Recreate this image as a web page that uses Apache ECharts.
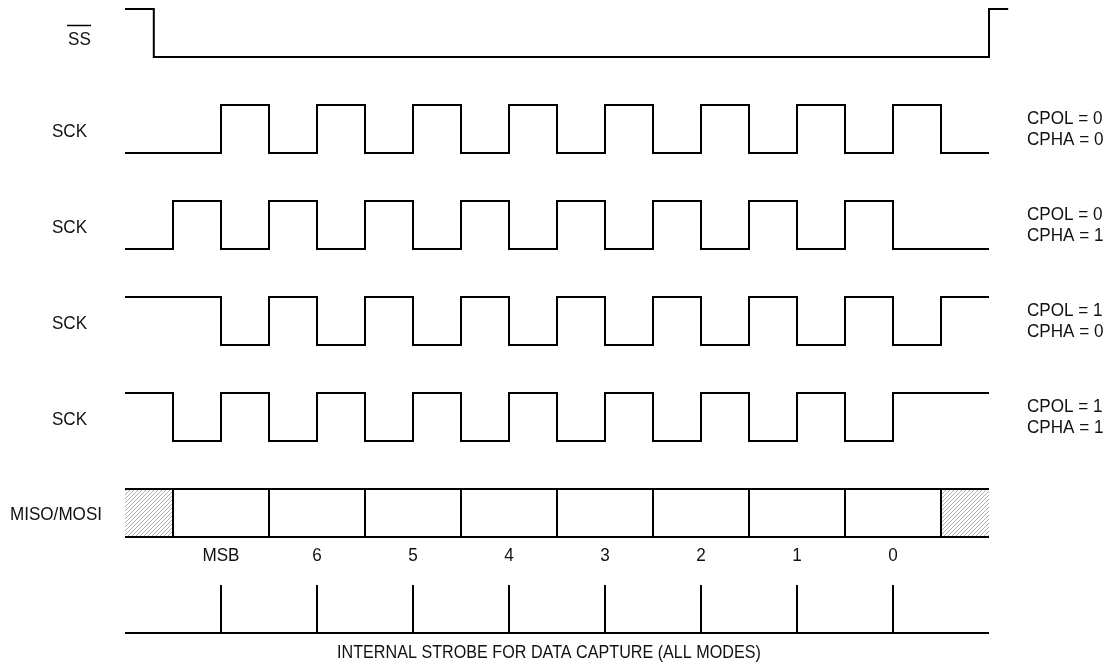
<!DOCTYPE html>
<html>
<head>
<meta charset="utf-8">
<title>SPI timing</title>
<script src="https://cdn.jsdelivr.net/npm/echarts@6/dist/echarts.min.js"></script>
<style>
  html, body { margin: 0; padding: 0; background: #fff; }
  #chart { width: 1112px; height: 666px; }
</style>
</head>
<body>
<div id="chart"></div>
<script>
// time is counted in half clock periods, 0..18
const ssEdges = [0, 0.6, 18, 18.4];
const ssLevels = [1, 0, 1];

// level of each half period, 1 = high
const sckCpol0Cpha0 = [0, 0, 1, 0, 1, 0, 1, 0, 1, 0, 1, 0, 1, 0, 1, 0, 1, 0];
const sckCpol0Cpha1 = [0, 1, 0, 1, 0, 1, 0, 1, 0, 1, 0, 1, 0, 1, 0, 1, 0, 0];
const sckCpol1Cpha0 = [1, 1, 0, 1, 0, 1, 0, 1, 0, 1, 0, 1, 0, 1, 0, 1, 0, 1];
const sckCpol1Cpha1 = [1, 0, 1, 0, 1, 0, 1, 0, 1, 0, 1, 0, 1, 0, 1, 0, 1, 1];

const rowNames = ["SS", "SCK", "SCK", "SCK", "SCK", "MISO/MOSI"];
const modeLabels = [
  "CPOL = 0\nCPHA = 0",
  "CPOL = 0\nCPHA = 1",
  "CPOL = 1\nCPHA = 0",
  "CPOL = 1\nCPHA = 1"
];

const dataSpan = [0, 18];
const bitBoundaries = [1, 3, 5, 7, 9, 11, 13, 15, 17];
const hatchSpans = [[0, 1], [17, 18]];
const bitCenters = [2, 4, 6, 8, 10, 12, 14, 16];
const bitLabels = ["MSB", "6", "5", "4", "3", "2", "1", "0"];
const strobeTimes = [2, 4, 6, 8, 10, 12, 14, 16];

// the original uses a condensed sans, so squeeze Liberation Sans horizontally
const FONT = "19px 'Liberation Sans', Arial, sans-serif";
const SQUEEZE = 0.9;
const TEXT_COLOR = "#111";

// row r: high level at y = 2r, low level at y = 2r + 1 (y axis inverted)
function levelY(row, level) {
  return level ? 2 * row : 2 * row + 1;
}

function wavePoints(row, edges, levels) {
  const pts = [];
  levels.forEach((lv, i) => {
    pts.push([edges[i], levelY(row, lv)]);
    pts.push([edges[i + 1], levelY(row, lv)]);
  });
  return pts;
}

function halfPeriodEdges(n) {
  const e = [];
  for (let i = 0; i <= n; i++) e.push(i);
  return e;
}

function waveSeries(points) {
  return {
    type: "line",
    data: points,
    symbol: "none",
    silent: true,
    animation: false,
    lineStyle: { color: "#000", width: 2, join: "miter" }
  };
}

// hatch pattern for "don't care" cells
const hatch = document.createElement("canvas");
hatch.width = 4;
hatch.height = 4;
(function () {
  const ctx = hatch.getContext("2d");
  ctx.strokeStyle = "#9a9a9a";
  ctx.lineWidth = 0.8;
  ctx.beginPath();
  ctx.moveTo(0, 4);
  ctx.lineTo(4, 0);
  ctx.moveTo(-1, 1);
  ctx.lineTo(1, -1);
  ctx.moveTo(3, 5);
  ctx.lineTo(5, 3);
  ctx.stroke();
})();

const sckRows = [sckCpol0Cpha0, sckCpol0Cpha1, sckCpol1Cpha0, sckCpol1Cpha1];
const misoRow = 5;
const strobeRow = 6;

const series = [];
series.push(waveSeries(wavePoints(0, ssEdges, ssLevels)));
sckRows.forEach((lv, i) => {
  series.push(waveSeries(wavePoints(i + 1, halfPeriodEdges(lv.length), lv)));
});

// data cells: hatched don't-care areas
series.push({
  type: "custom",
  silent: true,
  animation: false,
  data: hatchSpans.map(s => [s[0], s[1], levelY(misoRow, 1), levelY(misoRow, 0)]),
  renderItem(params, api) {
    const a = api.coord([api.value(0), api.value(2)]);
    const b = api.coord([api.value(1), api.value(3)]);
    return {
      type: "rect",
      shape: { x: a[0], y: a[1], width: b[0] - a[0], height: b[1] - a[1] },
      style: { fill: { image: hatch, repeat: "repeat" } }
    };
  }
});

// data cell borders
series.push(waveSeries([[dataSpan[0], levelY(misoRow, 1)], [dataSpan[1], levelY(misoRow, 1)]]));
series.push(waveSeries([[dataSpan[0], levelY(misoRow, 0)], [dataSpan[1], levelY(misoRow, 0)]]));
series.push(waveSeries([[dataSpan[0], levelY(strobeRow, 0)], [dataSpan[1], levelY(strobeRow, 0)]]));

function ticksSeries(times, row) {
  return {
    type: "custom",
    silent: true,
    animation: false,
    data: times.map(t => [t, levelY(row, 1), levelY(row, 0)]),
    renderItem(params, api) {
      const a = api.coord([api.value(0), api.value(1)]);
      const b = api.coord([api.value(0), api.value(2)]);
      return {
        type: "line",
        shape: { x1: a[0], y1: a[1], x2: b[0], y2: b[1] },
        style: { stroke: "#000", lineWidth: 2 }
      };
    }
  };
}
series.push(ticksSeries(bitBoundaries, misoRow));
series.push(ticksSeries(strobeTimes, strobeRow));

// bit names under the data cells
series.push({
  type: "custom",
  silent: true,
  animation: false,
  data: bitCenters.map(t => [t, 11.4]),
  renderItem(params, api) {
    const p = api.coord([api.value(0), api.value(1)]);
    return {
      type: "text",
      x: p[0],
      y: p[1],
      scaleX: SQUEEZE,
      style: {
        text: bitLabels[params.dataIndex],
        fill: TEXT_COLOR,
        font: FONT,
        align: "center",
        verticalAlign: "middle"
      }
    };
  }
});

const chart = echarts.init(document.getElementById("chart"));

function label(text, x, y, align, extra) {
  return {
    type: "text",
    x,
    y,
    scaleX: (extra && extra.scaleX) || SQUEEZE,
    style: Object.assign({
      text,
      fill: TEXT_COLOR,
      font: FONT,
      align,
      verticalAlign: "middle"
    }, extra && extra.style)
  };
}

const leftLabelPos = [[79.5, 40], [69.5, 132], [69.5, 228], [69.5, 324], [69.5, 420], [56, 515]];
const graphic = [];
rowNames.forEach((name, i) => {
  graphic.push(label(name, leftLabelPos[i][0], leftLabelPos[i][1], "center"));
});
// overline on SS (active low)
graphic.push({
  type: "line",
  shape: { x1: 67, y1: 25.5, x2: 91, y2: 25.5 },
  style: { stroke: "#000", lineWidth: 1.5 }
});
modeLabels.forEach((txt, i) => {
  graphic.push(label(txt, 1027, 129 + i * 96, "left", { style: { lineHeight: 21 } }));
});
graphic.push(label("INTERNAL STROBE FOR DATA CAPTURE (ALL MODES)", 549, 653, "center", { scaleX: 0.85 }));

chart.setOption({
  backgroundColor: "#fff",
  animation: false,
  grid: { left: 125, top: 9, width: 18.4 * 48, height: 13 * 48 },
  xAxis: { type: "value", min: 0, max: 18.4, show: false },
  yAxis: { type: "value", min: 0, max: 13, inverse: true, show: false },
  series,
  graphic
});
</script>
</body>
</html>
